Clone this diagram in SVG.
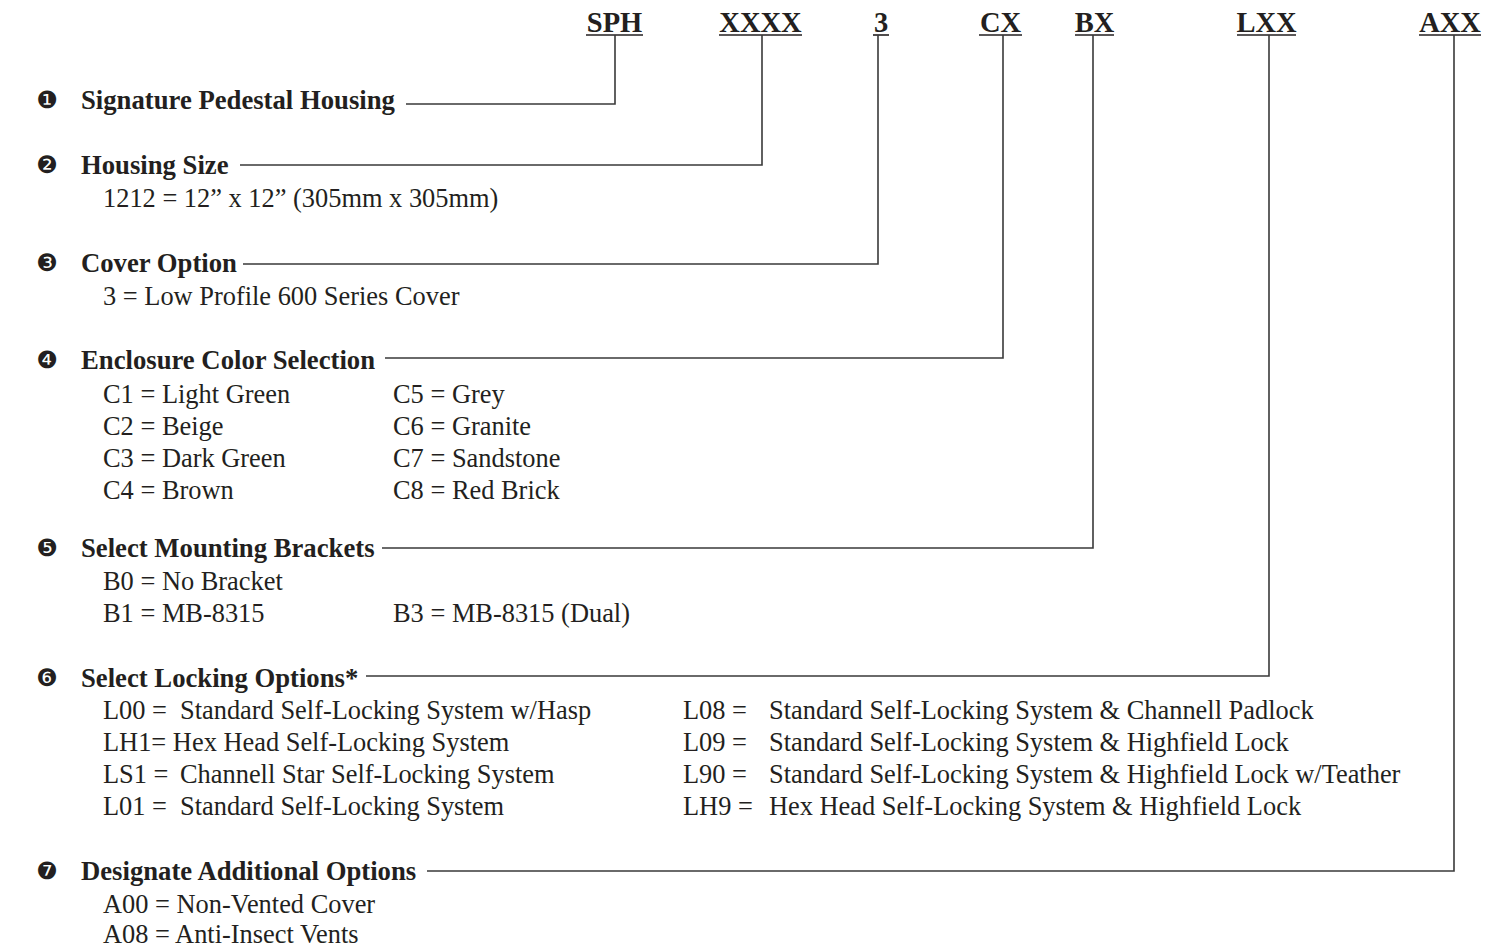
<svg xmlns="http://www.w3.org/2000/svg" width="1496" height="948" viewBox="0 0 1496 948">
<style>
.hdr{font-family:"Liberation Serif",serif;font-weight:bold;font-size:28.5px;fill:#231f20;text-anchor:middle}
.hd{font-family:"Liberation Serif",serif;font-weight:bold;font-size:26.7px;fill:#231f20}
.tx{font-family:"Liberation Serif",serif;font-size:26.4px;fill:#231f20}
.num{font-family:"DejaVu Sans",sans-serif;font-size:24px;fill:#231f20;text-anchor:middle;dominant-baseline:central}
.ln{fill:none;stroke:#3a3a3a;stroke-width:1.6}
.ul{stroke:#231f20;stroke-width:1.6}
</style>
<rect width="1496" height="948" fill="#fff"/>
<g id="header">
<g id="h-sph"><text class="hdr" x="614.5" y="32">SPH</text><line class="ul" x1="586" y1="35" x2="643" y2="35"/></g>
<g id="h-xxxx"><text class="hdr" x="760.5" y="32">XXXX</text><line class="ul" x1="719" y1="35" x2="802" y2="35"/></g>
<g id="h-3"><text class="hdr" x="881" y="32">3</text><line class="ul" x1="873" y1="35" x2="889" y2="35"/></g>
<g id="h-cx"><text class="hdr" x="1000.5" y="32">CX</text><line class="ul" x1="979" y1="35" x2="1022" y2="35"/></g>
<g id="h-bx"><text class="hdr" x="1094.5" y="32">BX</text><line class="ul" x1="1075" y1="35" x2="1114" y2="35"/></g>
<g id="h-lxx"><text class="hdr" x="1266.5" y="32">LXX</text><line class="ul" x1="1237" y1="35" x2="1296" y2="35"/></g>
<g id="h-axx"><text class="hdr" x="1450" y="32">AXX</text><line class="ul" x1="1419" y1="35" x2="1481" y2="35"/></g>
</g>
<g id="connectors">
<path class="ln" d="M406,104 H615 V35"/>
<path class="ln" d="M240,165 H762 V35"/>
<path class="ln" d="M243,264 H878 V35"/>
<path class="ln" d="M385,358 H1003 V35"/>
<path class="ln" d="M382,548 H1093 V35"/>
<path class="ln" d="M366,676 H1269 V35"/>
<path class="ln" d="M427,871 H1454 V35"/>
</g>
<g id="item1">
<text class="num" x="47" y="100">❶</text>
<text class="hd" x="81" y="109">Signature Pedestal Housing</text>
</g>
<g id="item2">
<text class="num" x="47" y="165">❷</text>
<text class="hd" x="81" y="174">Housing Size</text>
<text class="tx" x="103" y="207">1212 = 12” x 12” (305mm x 305mm)</text>
</g>
<g id="item3">
<text class="num" x="47" y="263">❸</text>
<text class="hd" x="81" y="272">Cover Option</text>
<text class="tx" x="103" y="305">3 = Low Profile 600 Series Cover</text>
</g>
<g id="item4">
<text class="num" x="47" y="360">❹</text>
<text class="hd" x="81" y="369">Enclosure Color Selection</text>
<text class="tx" x="103" y="403">C1 = Light Green</text>
<text class="tx" x="103" y="435">C2 = Beige</text>
<text class="tx" x="103" y="467">C3 = Dark Green</text>
<text class="tx" x="103" y="499">C4 = Brown</text>
<text class="tx" x="393" y="403">C5 = Grey</text>
<text class="tx" x="393" y="435">C6 = Granite</text>
<text class="tx" x="393" y="467">C7 = Sandstone</text>
<text class="tx" x="393" y="499">C8 = Red Brick</text>
</g>
<g id="item5">
<text class="num" x="47" y="548">❺</text>
<text class="hd" x="81" y="557">Select Mounting Brackets</text>
<text class="tx" x="103" y="590">B0 = No Bracket</text>
<text class="tx" x="103" y="622">B1 = MB-8315</text>
<text class="tx" x="393" y="622">B3 = MB-8315 (Dual)</text>
</g>
<g id="item6">
<text class="num" x="47" y="678">❻</text>
<text class="hd" x="81" y="687">Select Locking Options*</text>
<text class="tx" y="719"><tspan x="103">L00 =</tspan><tspan x="180">Standard Self-Locking System w/Hasp</tspan></text>
<text class="tx" x="103" y="751">LH1= Hex Head Self-Locking System</text>
<text class="tx" y="783"><tspan x="103">LS1 =</tspan><tspan x="180">Channell Star Self-Locking System</tspan></text>
<text class="tx" y="815"><tspan x="103">L01 =</tspan><tspan x="180">Standard Self-Locking System</tspan></text>
<text class="tx" y="719"><tspan x="683">L08 =</tspan><tspan x="769">Standard Self-Locking System &amp; Channell Padlock</tspan></text>
<text class="tx" y="751"><tspan x="683">L09 =</tspan><tspan x="769">Standard Self-Locking System &amp; Highfield Lock</tspan></text>
<text class="tx" y="783"><tspan x="683">L90 =</tspan><tspan x="769">Standard Self-Locking System &amp; Highfield Lock w/Teather</tspan></text>
<text class="tx" y="815"><tspan x="683">LH9 =</tspan><tspan x="769">Hex Head Self-Locking System &amp; Highfield Lock</tspan></text>
</g>
<g id="item7">
<text class="num" x="47" y="871">❼</text>
<text class="hd" x="81" y="880">Designate Additional Options</text>
<text class="tx" x="103" y="913">A00 = Non-Vented Cover</text>
<text class="tx" x="103" y="943">A08 = Anti-Insect Vents</text>
</g>
</svg>
